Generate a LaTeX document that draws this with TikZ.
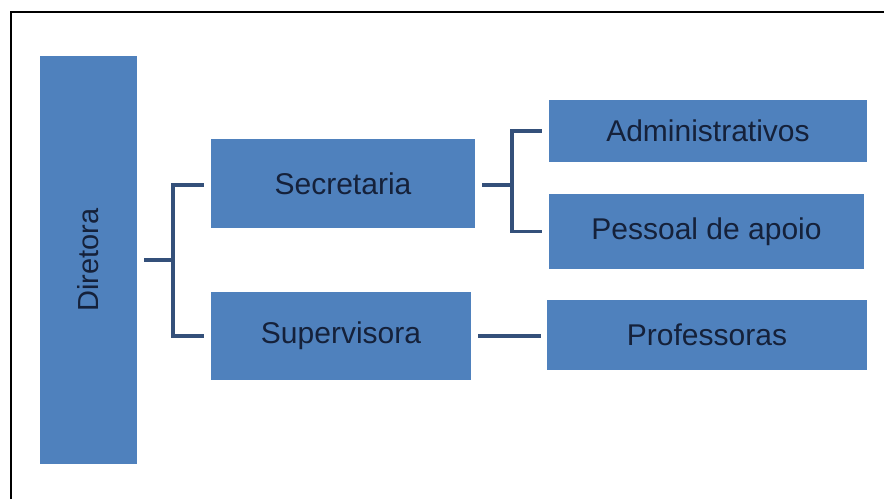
\documentclass[tikz,border=0pt]{standalone}
\usepackage{fontspec}
\setmainfont{Liberation Sans}
\definecolor{boxblue}{HTML}{4F81BD}
\definecolor{linecol}{HTML}{34507A}
\definecolor{txtcol}{HTML}{15213A}
\begin{document}
\begin{tikzpicture}[x=1pt,y=1pt,
  box/.style={fill=boxblue,draw=none,inner sep=0pt,text=txtcol,font=\fontsize{30}{32}\selectfont},
  conn/.style={draw=linecol,line width=3.5pt}]
\useasboundingbox (0,0) rectangle (884,499);
\fill[white] (0,0) rectangle (884,499);
\draw[line width=2.5pt,black] (11,0) -- (11,487) -- (884,487);
\node[box,minimum width=97pt,minimum height=408pt] (dir) at (88.5,239) {};
\node[text=txtcol,font=\fontsize{29}{31}\selectfont,rotate=90,inner sep=0pt] (dirt) at (dir.center) {Diretora};
\node[box,minimum width=264pt,minimum height=89pt] (sec) at (343,315.5) {Secretaria};
\node[box,minimum width=260pt,minimum height=88pt] (sup) at (341,163) {Supervisora};
\node[box,minimum width=318pt,minimum height=62pt] (adm) at (708,368) {Administrativos};
\node[box,minimum width=315pt,minimum height=75pt] (pes) at (706.5,267.5) {Pessoal de apoio};
\node[box,minimum width=320pt,minimum height=70pt] (prof) at (707,164) {Professoras};
\coordinate (j1) at (173,239);
\coordinate (j2) at (512,314);
\draw[conn] ([xshift=7pt]dir.east) -- (j1);
\draw[conn] ([xshift=-7pt]sec.west |- j2) -| (j1) |- ([xshift=-7pt]sup.west);
\draw[conn] ([xshift=7pt]sec.east |- j2) -- (j2);
\draw[conn] ([xshift=-7pt]adm.west) -| (j2) |- ([xshift=-7pt]pes.west);
\draw[conn] ([xshift=7pt]sup.east) -- ([xshift=-6pt]prof.west |- sup.east);
\end{tikzpicture}
\end{document}
